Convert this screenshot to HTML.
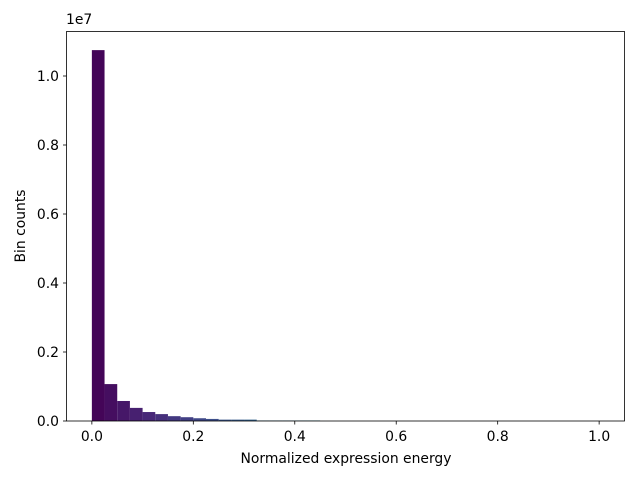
<!DOCTYPE html>
<html><head><meta charset="utf-8"><style>
body{margin:0;background:#fff;font-family:"DejaVu Sans","Liberation Sans",sans-serif;}
</style></head><body>
<svg id="chart" width="640" height="480" style="display:block">
<g id="bars"></g>
<rect x="66.5" y="31.5" width="558" height="389.5" fill="none" stroke="#000" stroke-width="0.8"/>
<g id="xt"></g>
<g id="yt"></g>
<text x="346" y="463" font-size="13.9" text-anchor="middle">Normalized expression energy</text>
<text x="25" y="226" font-size="13.9" text-anchor="middle" transform="rotate(-90 25 226)">Bin counts</text>
<text x="66" y="24" font-size="13.9">1e7</text>
</svg>
<script>
const binEdges0 = 0, binWidth = 0.025;
const counts = [10.75e6,1.07e6,0.58e6,0.38e6,0.26e6,0.2e6,0.14e6,0.11e6,0.08e6,0.06e6,0.04e6,0.04e6,0.04e6,0.015e6,0.015e6,0.015e6,0.015e6,0.015e6,0,0,0,0,0,0,0,0,0,0,0,0,0,0,0,0,0,0,0,0,0,0];
const xTicks = [0,0.2,0.4,0.6,0.8,1.0];
const xTickLabels = ["0.0","0.2","0.4","0.6","0.8","1.0"];
const yTicks = [0,2e6,4e6,6e6,8e6,10e6];
const yTickLabels = ["0.0","0.2","0.4","0.6","0.8","1.0"];
const X = v => 66.5 + (v + 0.05) / 1.1 * 558;
const Y = v => 421 - v / 1e7 * 345;
const vir = [[68,1,84],[72,40,120],[62,74,137],[49,104,142],[38,130,142],[31,158,137],[53,183,121],[109,205,89],[180,222,44],[253,231,37]];
function cmap(t){t=Math.max(0,Math.min(1,t))*9;const i=Math.min(8,Math.floor(t)),f=t-i;const a=vir[i],b=vir[i+1];return `rgb(${a.map((c,k)=>Math.round(c+(b[k]-c)*f)).join(',')})`;}
const NS="http://www.w3.org/2000/svg";
const bars=document.getElementById('bars');
counts.forEach((c,i)=>{
  const x0=X(binEdges0+i*binWidth), x1=X(binEdges0+(i+1)*binWidth);
  const r=document.createElementNS(NS,'rect');
  r.setAttribute('x',x0);r.setAttribute('width',x1-x0);
  r.setAttribute('y',Y(c));r.setAttribute('height',Y(0)-Y(c));
  r.setAttribute('fill',cmap((i+0.5)/counts.length));
  
  
  bars.appendChild(r);
});
const xt=document.getElementById('xt');
xTicks.forEach((v,i)=>{
  const l=document.createElementNS(NS,'line');
  l.setAttribute('x1',X(v));l.setAttribute('x2',X(v));l.setAttribute('y1',421);l.setAttribute('y2',424.5);l.setAttribute('stroke','#000');l.setAttribute('stroke-width','0.8');
  
  
  xt.appendChild(l);
  const t=document.createElementNS(NS,'text');
  t.setAttribute('x',X(v));t.setAttribute('y',441);t.setAttribute('font-size','13.9');t.setAttribute('text-anchor','middle');t.textContent=xTickLabels[i];
  
  
  xt.appendChild(t);
});
const yt=document.getElementById('yt');
yTicks.forEach((v,i)=>{
  const l=document.createElementNS(NS,'line');
  l.setAttribute('x1',63);l.setAttribute('x2',66.5);l.setAttribute('y1',Y(v));l.setAttribute('y2',Y(v));l.setAttribute('stroke','#000');l.setAttribute('stroke-width','0.8');
  
  
  yt.appendChild(l);
  const t=document.createElementNS(NS,'text');
  t.setAttribute('x',59);t.setAttribute('y',Y(v)+5);t.setAttribute('font-size','13.9');t.setAttribute('text-anchor','end');t.textContent=yTickLabels[i];
  
  
  yt.appendChild(t);
});
</script>
</body></html>
